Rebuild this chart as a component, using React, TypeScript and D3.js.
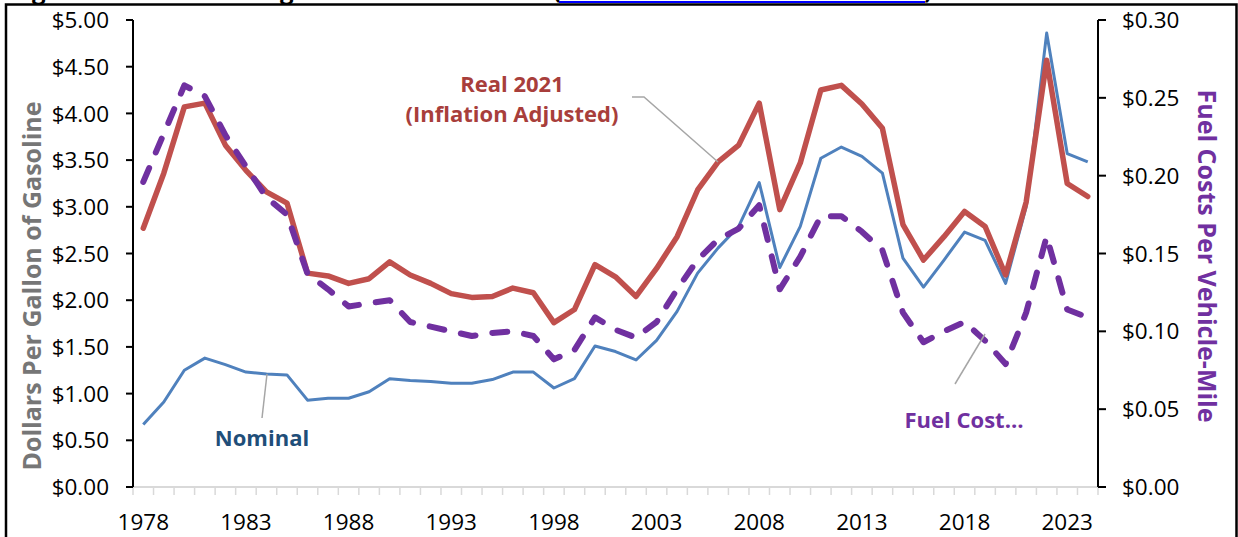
import React from "react";
import * as d3 from "d3";

// ---- Data ----
const years = [
  "1978", "1979", "1980", "1981", "1982", "1983", "1984", "1985", "1986", "1987",
  "1988", "1989", "1990", "1991", "1992", "1993", "1994", "1995", "1996", "1997",
  "1998", "1999", "2000", "2001", "2002", "2003", "2004", "2005", "2006", "2007",
  "2008", "2009", "2010", "2011", "2012", "2013", "2014", "2015", "2016", "2017",
  "2018", "2019", "2020", "2021", "2022", "2023", "2024",
];

// Real 2021 dollars per gallon (left axis)
const realPrice = [
  2.77, 3.36, 4.07, 4.11, 3.66, 3.39, 3.16, 3.04, 2.29, 2.26,
  2.18, 2.23, 2.41, 2.27, 2.18, 2.07, 2.03, 2.04, 2.13, 2.08,
  1.76, 1.90, 2.38, 2.25, 2.04, 2.34, 2.68, 3.18, 3.48, 3.66,
  4.11, 2.97, 3.47, 4.25, 4.30, 4.10, 3.84, 2.81, 2.43, 2.68,
  2.95, 2.79, 2.27, 3.05, 4.57, 3.25, 3.11,
];

// Nominal dollars per gallon (left axis)
const nominalPrice = [
  0.67, 0.91, 1.25, 1.38, 1.31, 1.23, 1.21, 1.20, 0.93, 0.95,
  0.95, 1.02, 1.16, 1.14, 1.13, 1.11, 1.11, 1.15, 1.23, 1.23,
  1.06, 1.16, 1.51, 1.45, 1.36, 1.57, 1.88, 2.29, 2.56, 2.79,
  3.26, 2.35, 2.79, 3.52, 3.64, 3.54, 3.36, 2.45, 2.14, 2.43,
  2.73, 2.64, 2.18, 3.00, 4.86, 3.57, 3.48,
];

// Fuel cost per vehicle-mile (right axis)
const fuelCostPerMile = [
  0.196, 0.227, 0.258, 0.251, 0.226, 0.206, 0.186, 0.175, 0.137, 0.127,
  0.116, 0.118, 0.120, 0.106, 0.103, 0.100, 0.097, 0.099, 0.100, 0.097,
  0.082, 0.088, 0.109, 0.101, 0.096, 0.106, 0.127, 0.146, 0.159, 0.166,
  0.181, 0.127, 0.148, 0.174, 0.174, 0.164, 0.152, 0.112, 0.093, 0.100,
  0.106, 0.094, 0.079, 0.112, 0.161, 0.114, 0.109,
];

const leftTicks = [0, 0.5, 1, 1.5, 2, 2.5, 3, 3.5, 4, 4.5, 5];
const rightTicks = [0, 0.05, 0.1, 0.15, 0.2, 0.25, 0.3];
const yearLabels = ["1978", "1983", "1988", "1993", "1998", "2003", "2008", "2013", "2018", "2023"];

const W = 1238;
const H = 537;
const FONT = "'Open Sans', 'Noto Sans', 'Liberation Sans', sans-serif";

export default function App() {
  const left = 133;
  const right = 1098;
  const top = 20;
  const bottom = 487;

  const x = d3.scalePoint<string>().domain(years).range([left, right]).padding(0.5);
  const step = x.step();
  const yL = d3.scaleLinear().domain([0, 5]).range([bottom, top]);
  const yR = d3.scaleLinear().domain([0, 0.3]).range([bottom, top]);

  const lineL = d3
    .line<number>()
    .x((_, i) => x(years[i]) as number)
    .y((d) => yL(d));
  const lineR = d3
    .line<number>()
    .x((_, i) => x(years[i]) as number)
    .y((d) => yR(d));

  const fmtL = (v: number) => "$" + d3.format(".2f")(v);
  const boundaries = d3.range(years.length + 1).map((i) => left + i * step);

  return (
    <svg
      width={W}
      height={H}
      style={{ position: "absolute", left: 0, top: 0, background: "#fff" }}
      fontFamily={FONT}
    >
      <rect x={0} y={0} width={W} height={H} fill="#fff" />
      {/* cut-off title fragments above the frame (the reference crops the title) */}
      <g fontWeight={700} fontSize={24} fill="#000">
        <text x={32} y={-1}>g</text>
        <text x={280} y={-1}>g</text>
        <text x={553} y={-1}>(</text>
        <text x={924} y={-1}>)</text>
      </g>
      <rect x={559} y={1} width={366} height={2} fill="#0000FF" />

      {/* outer frame */}
      <path d={`M6,${H + 5} V4.5 H1236.5 V${H + 5}`} fill="none" stroke="#000" strokeWidth={2.5} />

      {/* x axis line and minor ticks */}
      <line x1={left} x2={right} y1={bottom} y2={bottom} stroke="#D9D9D9" strokeWidth={2} />
      {boundaries.map((bx, i) => (
        <line key={i} x1={bx} x2={bx} y1={bottom} y2={bottom + 8} stroke="#D9D9D9" strokeWidth={1.5} />
      ))}

      {/* left axis */}
      <line x1={left} x2={left} y1={top} y2={bottom} stroke="#000" strokeWidth={2} />
      {leftTicks.map((t) => (
        <g key={t}>
          <line x1={left - 7} x2={left} y1={yL(t)} y2={yL(t)} stroke="#000" strokeWidth={2} />
          <text x={109} y={yL(t)} dy="0.36em" textAnchor="end" fontSize={22.5} fill="#000">
            {fmtL(t)}
          </text>
        </g>
      ))}

      {/* right axis */}
      <line x1={right} x2={right} y1={top} y2={bottom} stroke="#000" strokeWidth={2} />
      {rightTicks.map((t) => (
        <g key={t}>
          <line x1={right} x2={right + 8} y1={yR(t)} y2={yR(t)} stroke="#000" strokeWidth={2} />
          <text x={1122} y={yR(t)} dy="0.36em" textAnchor="start" fontSize={22.5} fill="#000">
            {fmtL(t)}
          </text>
        </g>
      ))}

      {/* year labels */}
      {yearLabels.map((yr) => (
        <text key={yr} x={x(yr) as number} y={530} textAnchor="middle" fontSize={22.5} fill="#000">
          {yr}
        </text>
      ))}

      {/* axis titles */}
      <text
        transform="translate(32,286) rotate(-90)"
        textAnchor="middle"
        dy="0.36em"
        fontSize={25}
        fontWeight={700}
        fill="#767676"
      >
        Dollars Per Gallon of Gasoline
      </text>
      <text
        transform="translate(1207,256) rotate(90)"
        textAnchor="middle"
        dy="0.36em"
        fontSize={25}
        fontWeight={700}
        fill="#7030A0"
      >
        Fuel Costs Per Vehicle-Mile
      </text>

      {/* series */}
      <path d={lineL(nominalPrice) || ""} fill="none" stroke="#4F81BD" strokeWidth={3} strokeLinejoin="round" />
      <path d={lineL(realPrice) || ""} fill="none" stroke="#C0504D" strokeWidth={5.5} strokeLinejoin="round" strokeLinecap="round" />
      <path
        d={lineR(fuelCostPerMile) || ""}
        fill="none"
        stroke="#7030A0"
        strokeWidth={6}
        strokeDasharray="15 17"
        strokeLinecap="round"
        strokeLinejoin="round"
      />

      {/* leader lines */}
      <polyline points="632,97 644,97 718,162" fill="none" stroke="#A6A6A6" strokeWidth={1.5} />
      <line x1={262} y1={418} x2={267} y2={374} stroke="#A6A6A6" strokeWidth={1.5} />
      <line x1={955} y1={384} x2={985} y2={334} stroke="#A6A6A6" strokeWidth={1.5} />

      {/* data labels */}
      <g fontWeight={700} fontSize={22}>
        <text x={512} y={92} textAnchor="middle" fill="#A83E3B">Real 2021</text>
        <text x={512} y={122} textAnchor="middle" fill="#A83E3B">(Inflation Adjusted)</text>
        <text x={262} y={446} textAnchor="middle" fill="#1F4E79">Nominal</text>
        <text x={964} y={428} textAnchor="middle" fill="#7030A0">Fuel Cost…</text>
      </g>
    </svg>
  );
}
